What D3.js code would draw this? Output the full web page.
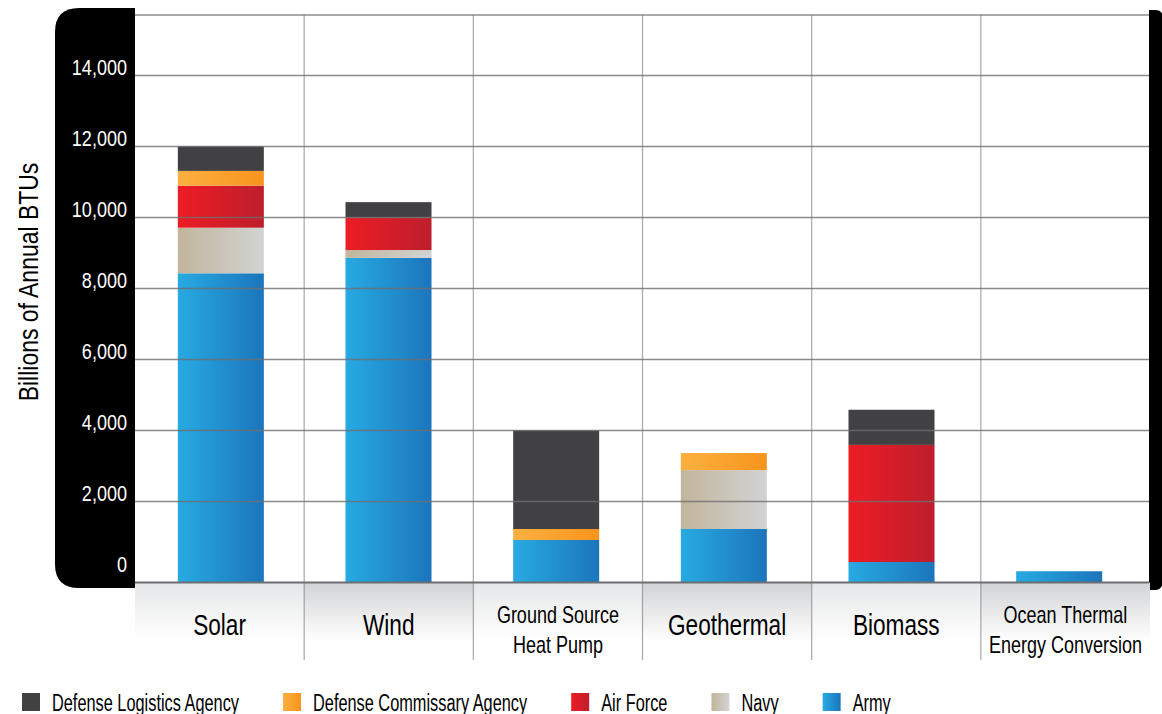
<!DOCTYPE html>
<html>
<head>
<meta charset="utf-8">
<script src="https://cdn.jsdelivr.net/npm/d3@7"></script>
<style>
  html, body { margin: 0; padding: 0; background: #fff; }
  svg { display: block; }
  text { font-family: "Liberation Sans", Arial, sans-serif; }
</style>
</head>
<body>
<svg id="chart" width="1162" height="714"></svg>
<script>
// ---- data ----
const categories = ["Solar", "Wind", "Ground Source Heat Pump", "Geothermal", "Biomass", "Ocean Thermal Energy Conversion"];
const categoryLines = [["Solar"], ["Wind"], ["Ground Source", "Heat Pump"], ["Geothermal"], ["Biomass"], ["Ocean Thermal", "Energy Conversion"]];
const seriesNames = ["Army", "Navy", "Air Force", "Defense Commissary Agency", "Defense Logistics Agency"];
const army   = [8425, 8860,  910, 1220,  290, 30];
const navy   = [1285,  220,    0, 1660,    0,  0];
const airForce = [1185, 920,   0,    0, 3300,  0];
const commissary = [415,  0,  310,  480,    0,  0];
const logistics  = [695, 430, 2780,    0,  990,  0];
const yTicks = [0, 2000, 4000, 6000, 8000, 10000, 12000, 14000];
const legendOrder = ["Defense Logistics Agency", "Defense Commissary Agency", "Air Force", "Navy", "Army"];

const seriesValues = [army, navy, airForce, commissary, logistics];
const table = categories.map((c, i) => {
  const row = { category: c };
  seriesNames.forEach((s, j) => row[s] = seriesValues[j][i]);
  return row;
});

// ---- styling ----
const gradStops = {
  "Army": ["#27aae1", "#1c75bc"],
  "Navy": ["#c2b59b", "#d1d3d4"],
  "Air Force": ["#ed1c24", "#be1e2d"],
  "Defense Commissary Agency": ["#fbb040", "#f7941d"],
  "Defense Logistics Agency": ["#414042", "#414042"]
};
// horizontal condensing to imitate a condensed typeface
function condense(sel, k) {
  sel.each(function() {
    const w = this.getComputedTextLength();
    this.__w = w * k;
    d3.select(this).attr("textLength", w * k).attr("lengthAdjust", "spacingAndGlyphs");
  });
  return sel;
}

const svg = d3.select("#chart");
const defs = svg.append("defs");
seriesNames.forEach((s, i) => {
  const g = defs.append("linearGradient").attr("id", "g" + i)
    .attr("x1", "0%").attr("x2", "100%").attr("y1", "0%").attr("y2", "0%");
  g.append("stop").attr("offset", "0%").attr("stop-color", gradStops[s][0]);
  g.append("stop").attr("offset", "100%").attr("stop-color", gradStops[s][1]);
});
function bandGrad(id, c) {
  const g = defs.append("linearGradient").attr("id", id)
    .attr("x1", "0").attr("x2", "0").attr("y1", "0").attr("y2", "1");
  g.append("stop").attr("offset", "0%").attr("stop-color", c);
  g.append("stop").attr("offset", "75%").attr("stop-color", "#ffffff");
}
bandGrad("bandDark", "#d2d3d5");
bandGrad("bandLight", "#e6e7e8");

// ---- layout ----
const plotLeft = 135, plotRight = 1150, plotTop = 15, plotBottom = 582.5;
const zeroY = 572.3, pxPerUnit = 0.03549;
const y = d3.scaleLinear()
  .domain([(zeroY - plotBottom) / pxPerUnit, (zeroY - plotTop) / pxPerUnit])
  .range([plotBottom, plotTop]);

const xCol = d3.scaleBand().domain(categories).range([plotLeft, plotRight]);
const xBar = d3.scaleBand().domain(categories).range([137, 1143]).paddingInner(0.487).paddingOuter(0.2435);

// left black panel
const pl = 55, pr = 135, pt = 8, pb = 588, r = 24;
svg.append("path")
  .attr("d", `M${pr},${pt} L${pl + r},${pt} Q${pl},${pt} ${pl},${pt + r} L${pl},${pb - r} Q${pl},${pb} ${pl + r},${pb} L${pr},${pb} Z`)
  .attr("fill", "#000");
// right black panel
svg.append("path")
  .attr("d", `M1149,10 L1155,10 Q1163,10 1163,18 L1163,580 Q1163,590 1155,590 L1149,590 Z`)
  .attr("fill", "#000");

// category label bands
svg.append("g").selectAll("rect").data(categories).join("rect")
  .attr("x", d => xCol(d)).attr("y", plotBottom)
  .attr("width", xCol.bandwidth()).attr("height", 78)
  .attr("fill", (d, i) => i % 2 ? "url(#bandDark)" : "url(#bandLight)");

// bars
const stack = d3.stack().keys(seriesNames)(table);
svg.append("g").selectAll("g").data(stack).join("g")
  .attr("fill", (d, i) => "url(#g" + i + ")")
  .selectAll("rect").data(d => d.filter(p => p[1] - p[0] > 0)).join("rect")
  .attr("x", d => xBar(d.data.category))
  .attr("width", xBar.bandwidth())
  .attr("y", d => y(d[1]))
  .attr("height", d => (d[0] === 0 ? y.range()[0] : y(d[0])) - y(d[1]));

// gridlines (on top)
const grid = svg.append("g").attr("stroke", "#6d6e71").attr("stroke-opacity", 0.8);
grid.selectAll("line.h").data(yTicks.filter(t => t > 0)).join("line")
  .attr("class", "h")
  .attr("x1", plotLeft).attr("x2", 1149)
  .attr("y1", d => Math.round(y(d)) + 0.5).attr("y2", d => Math.round(y(d)) + 0.5)
  .attr("stroke-width", 1.6);
grid.append("line").attr("x1", plotLeft).attr("x2", 1149)
  .attr("y1", plotTop).attr("y2", plotTop).attr("stroke-width", 1.6);
grid.selectAll("line.v").data(categories.slice(1)).join("line")
  .attr("class", "v")
  .attr("x1", d => xCol(d)).attr("x2", d => xCol(d))
  .attr("y1", plotTop).attr("y2", 660)
  .attr("stroke-width", 1.2).attr("stroke-opacity", 0.6);
// bottom axis line
svg.append("line").attr("x1", plotLeft).attr("x2", 1149)
  .attr("y1", plotBottom).attr("y2", plotBottom)
  .attr("stroke", "#6d6e71").attr("stroke-width", 2.2);

// y tick labels
condense(svg.append("g").selectAll("text").data(yTicks).join("text")
  .attr("x", 127).attr("y", d => y(d) - 8)
  .attr("text-anchor", "end").attr("dominant-baseline", "central")
  .attr("fill", "#fff").attr("font-size", 22)
  .text(d => d3.format(",")(d)), 0.82);

// y axis title
condense(svg.append("text")
  .attr("transform", "translate(38,282) rotate(-90)")
  .attr("text-anchor", "middle")
  .attr("font-size", 28).attr("fill", "#000")
  .text("Billions of Annual BTUs"), 0.82);

// category labels
const catG = svg.append("g");
categories.forEach((c, i) => {
  const lines = categoryLines[i];
  const cx = xCol(c) + xCol.bandwidth() / 2;
  lines.forEach((ln, k) => {
    const single = lines.length === 1;
    const t = catG.append("text")
      .attr("x", cx).attr("y", single ? 635 : 623 + k * 30)
      .attr("text-anchor", "middle").attr("fill", "#000")
      .attr("font-size", single ? 29 : 24)
      .text(ln);
    condense(t, single ? 0.78 : 0.75);
  });
});

// legend
const legend = svg.append("g");
let lx = 22;
legendOrder.forEach(name => {
  const idx = seriesNames.indexOf(name);
  legend.append("rect").attr("x", lx).attr("y", 693).attr("width", 18).attr("height", 18)
    .attr("fill", "url(#g" + idx + ")");
  const t = legend.append("text").attr("x", lx + 30).attr("y", 711)
    .attr("font-size", 23).attr("fill", "#000").text(name);
  condense(t, 0.71);
  lx += 30 + t.node().__w + 44;
});
</script>
</body>
</html>
